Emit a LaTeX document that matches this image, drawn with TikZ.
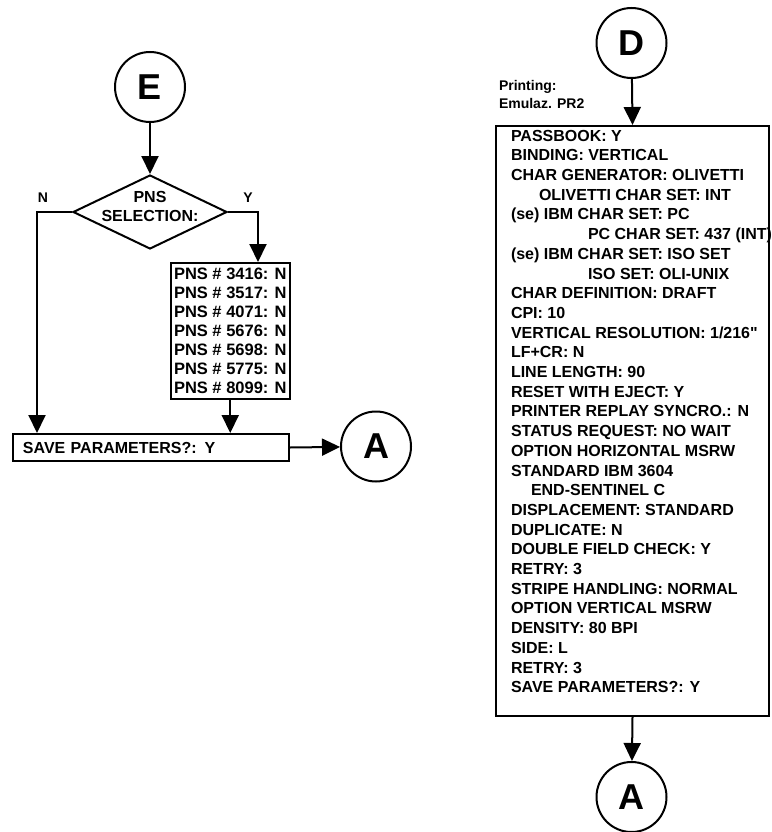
\documentclass[tikz,border=0pt]{standalone}
\usepackage{fontspec}
\setmainfont{Liberation Sans}
\usetikzlibrary{arrows.meta,shapes.geometric}
\begin{document}
\begin{tikzpicture}[x=1pt,y=-1pt,line width=2pt,
  circ/.style={draw,circle,minimum size=70pt,inner sep=0pt,font=\fontsize{36}{36}\selectfont\bfseries},
  arr/.style={-{Triangle[width=17pt,length=18pt]}},
  lab/.style={font=\fontsize{14}{18}\selectfont\bfseries},
  boxtxt/.style={font=\fontsize{16}{19}\selectfont\bfseries,align=left},
  pnstxt/.style={font=\fontsize{16.5}{19}\selectfont\bfseries,align=left},
  bigtxt/.style={font=\fontsize{16}{19.7}\selectfont\bfseries,align=left}]
\useasboundingbox (0,0) rectangle (771,832);
% ---------- left part ----------
\node[circ] (E) at (150,87) {E};
\node[draw,diamond,minimum width=154pt,minimum height=74pt,inner sep=0pt] (sel) at (150,212) {};
\node[boxtxt,align=center,inner sep=0pt] (seltxt) at (150,206) {PNS\\SELECTION:};
\node[lab] (N) at (43,198) {N};
\node[lab] (Y) at (248,198) {Y};
\node[draw,pnstxt,minimum width=118pt,inner xsep=3pt,minimum height=136pt,anchor=north west] (pns) at (170,262)
  {PNS \# 3416: N\\PNS \# 3517: N\\PNS \# 4071: N\\PNS \# 5676: N\\PNS \# 5698: N\\PNS \# 5775: N\\PNS \# 8099: N};
\node[draw,boxtxt,text width=256pt,inner xsep=10pt,minimum height=27pt,anchor=north west] (save) at (12,433)
  {SAVE PARAMETERS?: Y};
\node[circ] (A1) at (376,446.5) {A};
\coordinate (nN) at (37,212);
\coordinate (yY) at (258,212);
\draw[arr] (E) -- (sel.north);
\draw[arr] (sel.west) -- (nN) -- (nN |- save.north);
\draw[arr] (sel.east) -- (yY) -- (yY |- pns.north);
\draw[arr] (pns.south) -- (pns.south |- save.north);
\draw[arr] (save.east) -- (A1);
% ---------- right part ----------
\node[circ] (D) at (631.5,43) {D};
\node[lab,align=left,anchor=west,inner sep=0pt] (prt) at (498,94) {Printing:\\Emulaz. PR2};
\node[draw,minimum width=273pt,minimum height=590pt,anchor=north west,inner sep=0pt] (box) at (495,125) {};
\node[bigtxt,anchor=north west,inner sep=0pt] (boxtxt) at (510,129)
  {PASSBOOK: Y\\
   BINDING: VERTICAL\\
   CHAR GENERATOR: OLIVETTI\\
   \hspace*{28pt}OLIVETTI CHAR SET: INT\\
   (se) IBM CHAR SET: PC\\
   \hspace*{77pt}PC CHAR SET: 437 (INT)\\
   (se) IBM CHAR SET: ISO SET\\
   \hspace*{77pt}ISO SET: OLI-UNIX\\
   CHAR DEFINITION: DRAFT\\
   CPI: 10\\
   VERTICAL RESOLUTION: 1/216\textquotedbl\\
   LF+CR: N\\
   LINE LENGTH: 90\\
   RESET WITH EJECT: Y\\
   PRINTER REPLAY SYNCRO.: N\\
   STATUS REQUEST: NO WAIT\\
   OPTION HORIZONTAL MSRW\\
   STANDARD IBM 3604\\
   \hspace*{20pt}END-SENTINEL C\\
   DISPLACEMENT: STANDARD\\
   DUPLICATE: N\\
   DOUBLE FIELD CHECK: Y\\
   RETRY: 3\\
   STRIPE HANDLING: NORMAL\\
   OPTION VERTICAL MSRW\\
   DENSITY: 80 BPI\\
   SIDE: L\\
   RETRY: 3\\
   SAVE PARAMETERS?: Y};
\node[circ] (A2) at (631.5,797) {A};
\draw[arr] (D) -- (box.north);
\draw[arr] (box.south) -- (A2);
\end{tikzpicture}
\end{document}
